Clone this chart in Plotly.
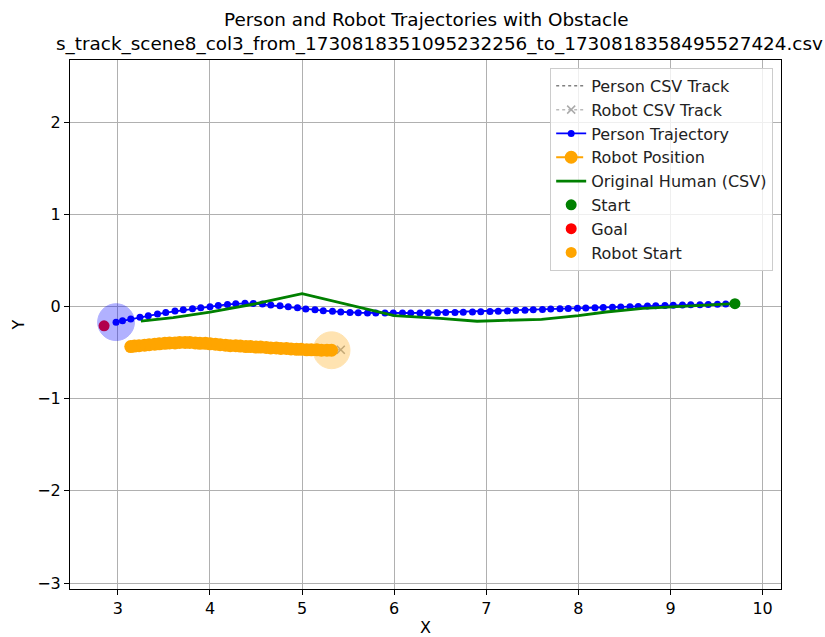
import plotly.graph_objects as go

# Person trajectory (simulated)
person_x = [9.70, 9.60, 9.51, 9.41, 9.32, 9.22, 9.13, 9.03, 8.94, 8.84, 8.75, 8.65, 8.56, 8.46,
            8.37, 8.27, 8.18, 8.08, 7.99, 7.89, 7.80, 7.70, 7.61, 7.51, 7.42, 7.32, 7.23, 7.13,
            7.04, 6.94, 6.85, 6.75, 6.66, 6.56, 6.47, 6.37, 6.28, 6.18, 6.09, 5.99, 5.90, 5.80,
            5.71, 5.61, 5.52, 5.42, 5.33, 5.23, 5.14, 5.04, 4.95, 4.85, 4.76, 4.66, 4.57, 4.47,
            4.38, 4.28, 4.19, 4.09, 4.00, 3.90, 3.81, 3.71, 3.62, 3.52, 3.43, 3.33, 3.24, 3.14,
            3.05, 2.98]
person_y = [0.030, 0.028, 0.025, 0.022, 0.020, 0.018, 0.015, 0.012, 0.010, 0.007, 0.004, 0.001,
            -0.002, -0.005, -0.008, -0.011, -0.014, -0.017, -0.020, -0.022, -0.025, -0.028,
            -0.032, -0.036, -0.040, -0.044, -0.048, -0.052, -0.055, -0.058, -0.060, -0.062,
            -0.064, -0.066, -0.068, -0.069, -0.070, -0.071, -0.072, -0.072, -0.072, -0.071,
            -0.070, -0.068, -0.065, -0.060, -0.053, -0.045, -0.036, -0.026, -0.015, -0.004,
            0.007, 0.017, 0.026, 0.032, 0.034, 0.030, 0.022, 0.010, -0.002, -0.013, -0.024,
            -0.036, -0.050, -0.066, -0.082, -0.100, -0.118, -0.137, -0.156, -0.170]

# Original human track (CSV)
human_x = [3.25, 3.60, 4.00, 4.50, 5.00, 5.50, 6.00, 6.50, 6.90, 7.20, 7.60, 8.00, 8.30, 8.70, 9.10, 9.70]
human_y = [-0.16, -0.12, -0.06, 0.03, 0.14, 0.02, -0.10, -0.13, -0.16, -0.15, -0.14, -0.10, -0.06, -0.02, 0.00, 0.03]

# Robot positions
robot_x = [5.32, 5.27, 5.21, 5.16, 5.10, 5.05, 4.99, 4.94, 4.88, 4.83, 4.77, 4.72, 4.66, 4.61,
           4.55, 4.50, 4.44, 4.39, 4.33, 4.28, 4.22, 4.17, 4.11, 4.06, 4.00, 3.95, 3.89, 3.84,
           3.78, 3.73, 3.67, 3.62, 3.56, 3.51, 3.45, 3.40, 3.34, 3.29, 3.23, 3.18, 3.14]
robot_y = [-0.475, -0.475, -0.475, -0.470, -0.470, -0.470, -0.465, -0.465, -0.460, -0.455,
           -0.455, -0.450, -0.450, -0.445, -0.440, -0.440, -0.435, -0.435, -0.430, -0.425,
           -0.425, -0.420, -0.415, -0.410, -0.405, -0.400, -0.400, -0.395, -0.390, -0.390,
           -0.390, -0.395, -0.395, -0.400, -0.405, -0.410, -0.415, -0.420, -0.425, -0.430, -0.435]

# Robot CSV track
robot_csv_x = [5.42, 5.10, 4.75, 4.40, 4.05, 3.70, 3.35]
robot_csv_y = [-0.47, -0.47, -0.455, -0.435, -0.41, -0.39, -0.415]

start_xy = (9.70, 0.03)
goal_xy = (2.85, -0.21)
radius = 0.2

title_lines = ["Person and Robot Trajectories with Obstacle",
               "s_track_scene8_col3_from_1730818351095232256_to_1730818358495527424.csv"]

fig = go.Figure()
fig.add_trace(go.Scatter(x=human_x, y=human_y, mode="lines", name="Person CSV Track",
                         line=dict(color="gray", dash="dot", width=1.5), legendgroup="a"))
fig.add_trace(go.Scatter(x=robot_csv_x, y=robot_csv_y, mode="lines+markers", name="Robot CSV Track",
                         line=dict(color="#bbbbbb", dash="dot", width=1.5),
                         marker=dict(symbol="x-thin", size=8, line=dict(color="#aaaaaa", width=1.5)),
                         legendgroup="b"))
fig.add_trace(go.Scatter(x=person_x, y=person_y, mode="lines+markers", name="Person Trajectory",
                         line=dict(color="blue", width=1.8), marker=dict(color="blue", size=7),
                         legendgroup="c"))
fig.add_trace(go.Scatter(x=robot_x, y=robot_y, mode="lines+markers", name="Robot Position",
                         line=dict(color="orange", dash="dash", width=1.8),
                         marker=dict(color="orange", size=13), legendgroup="d"))
fig.add_trace(go.Scatter(x=human_x, y=human_y, mode="lines", name="Original Human (CSV)",
                         line=dict(color="green", width=2.8), legendgroup="e"))
fig.add_trace(go.Scatter(x=[start_xy[0]], y=[start_xy[1]], mode="markers", name="Start",
                         marker=dict(color="green", size=11), legendgroup="f"))
fig.add_trace(go.Scatter(x=[goal_xy[0]], y=[goal_xy[1]], mode="markers", name="Goal",
                         marker=dict(color="red", size=11), legendgroup="g"))
fig.add_trace(go.Scatter(x=[robot_x[0]], y=[robot_y[0]], mode="markers", name="Robot Start",
                         marker=dict(color="orange", size=11), legendgroup="h"))

# Obstacle circles: person (last position) and robot (start)
for cx, cy, col in [(person_x[-1], person_y[-1], "blue"), (robot_x[0], robot_y[0], "orange")]:
    fig.add_shape(type="circle", xref="x", yref="y", x0=cx - radius, x1=cx + radius,
                  y0=cy - radius, y1=cy + radius, fillcolor=col, opacity=0.3,
                  line=dict(color=col, width=1), layer="above")

axis_common = dict(showgrid=True, gridcolor="#b0b0b0", gridwidth=1, showline=True, linecolor="black",
                   linewidth=1, mirror=True, ticks="outside", ticklen=5, tickcolor="black",
                   zeroline=False, dtick=1, tickfont=dict(size=16, color="black"), automargin=False)
fig.update_xaxes(range=[2.48, 10.2], title=dict(text="X", font=dict(size=16, color="black"), standoff=4),
                 **axis_common)
fig.update_yaxes(range=[-3.065, 2.674], tick0=0,
                 title=dict(text="Y", font=dict(size=16, color="black"), standoff=8), **axis_common)

# Title as two centered lines above the plot
for line, xp, dy in zip(title_lines, [0.501, 0.519], [40, 16]):
    fig.add_annotation(text=line, xref="paper", yref="paper", x=xp, y=1 + dy / 529,
                       xanchor="center", yanchor="middle", showarrow=False,
                       font=dict(size=18.4, color="black"))

fig.update_layout(
    width=825, height=637,
    margin=dict(l=70, r=44, t=60, b=48),
    paper_bgcolor="white", plot_bgcolor="white",
    font=dict(family="DejaVu Sans", color="black"),
    legend=dict(x=0.989, y=0.985, xanchor="right", yanchor="top", bgcolor="rgba(255,255,255,0.8)",
                bordercolor="#cccccc", borderwidth=1, font=dict(size=16, color="#222222"),
                tracegroupgap=0, itemwidth=30),
    showlegend=True,
)

fig.write_html("out.html")
